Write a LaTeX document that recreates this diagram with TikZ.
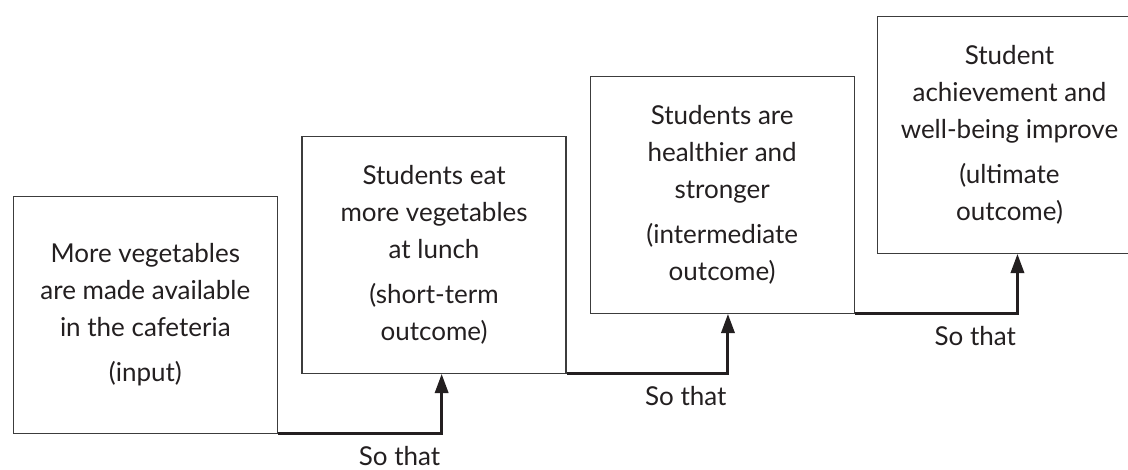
\documentclass[tikz,border=0pt]{standalone}
\usepackage{fontspec}
\setmainfont{Lato}
\usetikzlibrary{arrows.meta,positioning}
\definecolor{boxgray}{RGB}{60,60,60}
\definecolor{inkblack}{RGB}{35,31,32}
\tikzset{
  stage/.style={draw=boxgray,line width=0.65pt,align=center,
    minimum width=132pt,minimum height=118.3pt,inner sep=2pt,
    font=\fontsize{13}{18.5}\selectfont,text=inkblack},
  sothat/.style={-{Triangle[length=9.6pt,width=6.6pt]},line width=1.5pt,draw=inkblack},
  lab/.style={font=\fontsize{13}{18.5}\selectfont,text=inkblack,inner sep=0pt}
}

\begin{document}
\begin{tikzpicture}[x=0.5pt,y=-0.5pt]
  \useasboundingbox (0,0) rectangle (1128,470);
  % four stages, each one step up and to the right
  \node[stage,anchor=north west] (input) at (12.7,196)
    {More vegetables\\are made available\\in the cafeteria\\[4pt](input)};
  \node[stage,above right=30pt and 11.7pt of input.north east,anchor=north west] (short)
    {Students eat\\more vegetables\\at lunch\\[4pt](short-term\\outcome)};
  \node[stage,above right=30pt and 11.4pt of short.north east,anchor=north west] (inter)
    {Students are\\healthier and\\stronger\\[4pt](intermediate\\outcome)};
  \node[stage,above right=30pt and 11pt of inter.north east,anchor=north west] (ultimate)
    {Student\\achievement and\\well-being improve\\[4pt](ultimate\\outcome)};
  % so-that links, label sits under the corner
  \draw[sothat] (input.south east) -| node[lab,anchor=base east,yshift=-16pt]{So that}
    ([xshift=3.8pt]short.south);
  \draw[sothat] (short.south east) -| node[lab,anchor=base east,yshift=-16pt]{So that}
    ([xshift=2.9pt]inter.south);
  \draw[sothat] (inter.south east) -| node[lab,anchor=base east,yshift=-16pt]{So that}
    ([xshift=4pt]ultimate.south);
\end{tikzpicture}
\end{document}
